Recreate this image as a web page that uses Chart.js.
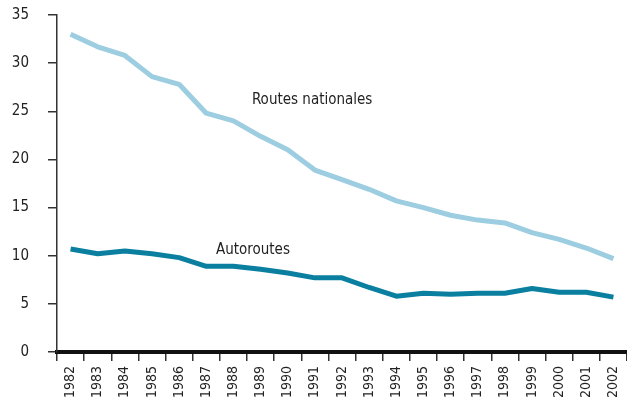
<!DOCTYPE html>
<html>
<head>
<meta charset="utf-8">
<script src="https://cdn.jsdelivr.net/npm/chart.js@4.4.1/dist/chart.umd.min.js"></script>
<style>
  html, body { margin: 0; padding: 0; background: #fff; }
  #wrap { width: 627px; height: 401px; }
</style>
</head>
<body>
<div id="wrap"><canvas id="chart" width="627" height="401"></canvas></div>
<script>
const years = ["1982","1983","1984","1985","1986","1987","1988","1989","1990","1991","1992",
  "1993","1994","1995","1996","1997","1998","1999","2000","2001","2002"];
const routesNationales = [33.0, 31.7, 30.8, 28.6, 27.8, 24.8, 24.0, 22.4, 21.0, 18.9, 17.9,
  16.9, 15.7, 15.0, 14.2, 13.7, 13.4, 12.4, 11.7, 10.8, 9.7];
const autoroutes = [10.7, 10.2, 10.5, 10.2, 9.8, 8.9, 8.9, 8.6, 8.2, 7.7, 7.7,
  6.7, 5.8, 6.1, 6.0, 6.1, 6.1, 6.6, 6.2, 6.2, 5.7];
const yTicks = [0, 5, 10, 15, 20, 25, 30, 35];

// labels placed on the chart, in data coordinates (category index, value)
const seriesLabels = [
  { text: "Routes nationales", x: 8.9, y: 26.2 },
  { text: "Autoroutes", x: 6.72, y: 10.6 }
];

const FONT = '"DejaVu Sans Condensed", "Liberation Sans", sans-serif';

const labelPlugin = {
  id: "seriesLabels",
  afterDatasetsDraw(chart) {
    const ctx = chart.ctx;
    const xs = chart.scales.x, ys = chart.scales.y;
    ctx.save();
    ctx.font = "15px " + FONT;
    ctx.fillStyle = "#222";
    ctx.textAlign = "center";
    ctx.textBaseline = "middle";
    seriesLabels.forEach(l => {
      ctx.fillText(l.text, xs.getPixelForValue(l.x), ys.getPixelForValue(l.y));
    });
    ctx.restore();
  }
};

new Chart(document.getElementById("chart").getContext("2d"), {
  type: "line",
  data: {
    labels: years,
    datasets: [
      {
        label: "Routes nationales",
        data: routesNationales,
        borderColor: "#9dcde0",
        borderWidth: 5,
        pointRadius: 0,
        tension: 0,
        borderJoinStyle: "round"
      },
      {
        label: "Autoroutes",
        data: autoroutes,
        borderColor: "#0a7fa0",
        borderWidth: 5,
        pointRadius: 0,
        tension: 0,
        borderJoinStyle: "round"
      }
    ]
  },
  options: {
    responsive: false,
    animation: false,
    layout: { padding: { top: 15, right: 0, left: 0, bottom: 0 } },
    plugins: {
      legend: { display: false },
      tooltip: { enabled: false }
    },
    scales: {
      x: {
        offset: true,
        grid: { offset: true, drawOnChartArea: false, tickLength: 9, color: "#333", lineWidth: 1.5 },
        border: { display: true, color: "#111", width: 4 },
        ticks: {
          minRotation: 90, maxRotation: 90, autoSkip: false, padding: 5,
          color: "#222", font: { family: FONT, size: 14 }
        },
        afterFit: s => { s.height = 49; s.paddingLeft = 0; s.paddingRight = 0; }
      },
      y: {
        min: 0, max: 35,
        afterBuildTicks: s => { s.ticks = yTicks.map(v => ({ value: v })); },
        grid: { drawOnChartArea: false, tickLength: 9, color: "#333", lineWidth: 1.5 },
        border: { display: true, color: "#333", width: 1.5 },
        ticks: { padding: 19, color: "#222", font: { family: FONT, size: 15 } },
        afterFit: s => { s.width = 57; s.paddingTop = 0; s.paddingBottom = 0; }
      }
    }
  },
  plugins: [labelPlugin]
});
</script>
</body>
</html>
